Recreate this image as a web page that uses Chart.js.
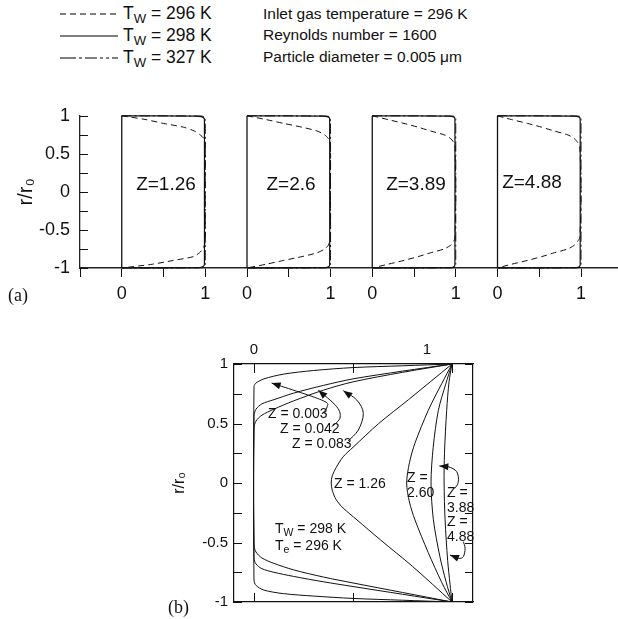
<!DOCTYPE html>
<html>
<head>
<meta charset="utf-8">
<script src="https://cdn.jsdelivr.net/npm/chart.js@4.4.1/dist/chart.umd.min.js"></script>
<style>
    html, body { margin: 0; padding: 0; background: #fff; }
    #page { position: relative; width: 618px; height: 619px; overflow: hidden; font-family: 'Liberation Sans', Arial, Helvetica, sans-serif; color: #111; }
    canvas { position: absolute; left: 0; }
    #chartA { top: 95px; }
    #chartB { top: 320px; }
    .t { position: absolute; white-space: nowrap; line-height: 1; transform: translateY(-50%); }
    .c { transform: translate(-50%, -50%); }
    .t sub { font-size: 75%; vertical-align: -0.3em; line-height: 0; }
    .two { line-height: 15px; transform: none; }
    .serif { font-family: 'Liberation Serif', 'Times New Roman', serif; }
    svg { position: absolute; overflow: visible; }
</style>
</head>
<body>
<div id="page">
    <canvas id="chartA" width="618" height="215"></canvas>
    <canvas id="chartB" width="618" height="299"></canvas>

    <svg style="left:60px;top:12px" width="58" height="4"><line x1="0" y1="2" x2="58" y2="2" stroke="#000" stroke-width="1" stroke-dasharray="6 4"/></svg>
    <svg style="left:60px;top:34px" width="58" height="4"><line x1="0" y1="2" x2="58" y2="2" stroke="#000" stroke-width="1.1"/></svg>
    <svg style="left:60px;top:56px" width="58" height="4"><line x1="0" y1="2" x2="58" y2="2" stroke="#000" stroke-width="1" stroke-dasharray="16 3 3 3 12 3 3 3 3 3"/></svg>
    <span class="t" style="left:123px;top:14px;font-size:17.5px">T<sub>W</sub> = 296 K</span>
    <span class="t" style="left:123px;top:36px;font-size:17.5px">T<sub>W</sub> = 298 K</span>
    <span class="t" style="left:123px;top:58px;font-size:17.5px">T<sub>W</sub> = 327 K</span>
    <span class="t" style="left:263px;top:14px;font-size:15.5px">Inlet gas temperature = 296 K</span>
    <span class="t" style="left:263px;top:35px;font-size:15.5px">Reynolds number = 1600</span>
    <span class="t" style="left:263px;top:57px;font-size:15.5px">Particle diameter = 0.005 &mu;m</span>

    <span class="t c" style="left:166px;top:183px;font-size:19px">Z=1.26</span>
    <span class="t c" style="left:291px;top:183px;font-size:19px">Z=2.6</span>
    <span class="t c" style="left:416px;top:183px;font-size:19px">Z=3.89</span>
    <span class="t c" style="left:532px;top:181px;font-size:19px">Z=4.88</span>
    <span class="t serif" style="left:8px;top:295px;font-size:18px">(a)</span>

    <span class="t" style="left:268px;top:413px;font-size:14px">Z = 0.003</span>
    <span class="t" style="left:280px;top:428px;font-size:14px">Z = 0.042</span>
    <span class="t" style="left:292px;top:443px;font-size:14px">Z = 0.083</span>
    <span class="t" style="left:334px;top:483px;font-size:14px">Z = 1.26</span>
    <span class="t two" style="left:407px;top:470px;font-size:14px">Z =<br>2.60</span>
    <span class="t two" style="left:447px;top:485px;font-size:14px">Z =<br>3.88</span>
    <span class="t two" style="left:447px;top:514px;font-size:14px">Z =<br>4.88</span>
    <span class="t" style="left:275px;top:528px;font-size:14px">T<sub>W</sub> = 298 K</span>
    <span class="t" style="left:275px;top:545px;font-size:14px">T<sub>e</sub> = 296 K</span>
    <span class="t serif" style="left:168px;top:607px;font-size:18px">(b)</span>
</div>
<script>
// ---- panel (a): radial profiles at four axial positions ----
const zLabelsA = ['1.26', '2.6', '3.89', '4.88'];
const panelTicks = [0, 0.5, 1];
const panelTickLabels = ['0', '', '1'];
const rTicks = [-1, -0.75, -0.5, -0.25, 0, 0.25, 0.5, 0.75, 1];
const rTickLabels = ['-1', '', '-0.5', '', '0', '', '0.5', '', '1'];

const rDashed = [1, 0.95, 0.9, 0.85, 0.8, 0.75, 0.7, 0.65, 0.6, 0, -0.6, -0.65, -0.7, -0.75, -0.8, -0.85, -0.9, -0.95, -1];
const dashed296 = [
    [0, 0.29, 0.5, 0.74, 0.87, 0.94, 0.985, 1, 1, 1, 1, 1, 0.99, 0.97, 0.93, 0.86, 0.62, 0.37, 0],
    [0, 0.23, 0.44, 0.66, 0.84, 0.93, 0.975, 0.99, 1, 1, 1, 0.99, 0.975, 0.93, 0.84, 0.66, 0.44, 0.23, 0],
    [0, 0.19, 0.38, 0.55, 0.7, 0.86, 0.94, 0.975, 0.99, 1, 0.99, 0.975, 0.94, 0.86, 0.7, 0.55, 0.38, 0.19, 0],
    [0, 0.17, 0.36, 0.53, 0.68, 0.84, 0.92, 0.96, 0.985, 1, 0.985, 0.96, 0.92, 0.84, 0.68, 0.53, 0.36, 0.17, 0],
];
const rWall = [1, 0.997, 0.99, 0.975, 0.95, 0, -0.95, -0.975, -0.99, -0.997, -1];
const solid298 = [
    [0, 0.89, 0.95, 0.98, 0.99, 0.99, 0.99, 0.98, 0.95, 0.89, 0],
    [0, 0.9, 0.96, 0.985, 0.99, 0.99, 0.99, 0.985, 0.96, 0.9, 0],
    [0, 0.92, 0.965, 0.985, 0.99, 0.99, 0.99, 0.985, 0.965, 0.92, 0],
    [0, 0.92, 0.965, 0.985, 0.99, 0.99, 0.99, 0.985, 0.965, 0.92, 0],
];
const dashdot327 = [
    [0, 0.95, 0.985, 0.995, 1, 1, 1, 0.995, 0.985, 0.95, 0],
    [0, 0.95, 0.985, 0.995, 1, 1, 1, 0.995, 0.985, 0.95, 0],
    [0, 0.96, 0.99, 1, 1, 1, 1, 1, 0.99, 0.96, 0],
    [0, 0.96, 0.99, 1, 1, 1, 1, 1, 0.99, 0.96, 0],
];
const panelEdge = [-1, 1];

// ---- panel (b): T_W = 298 K profiles ----
const zLabelsB = ['0.003', '0.042', '0.083', '1.26', '2.60', '3.88', '4.88'];
const profX = [
    [1, 0.75, 0.5, 0.3, 0.15, 0.05, 0.01, 0, 0, 0.01, 0.05, 0.15, 0.3, 0.5, 0.75, 1],
    [1, 0.75, 0.5, 0.35, 0.2, 0.1, 0.04, 0.01, 0, 0, 0.01, 0.04, 0.1, 0.2, 0.35, 0.5, 0.75, 1],
    [1, 0.75, 0.5, 0.35, 0.2, 0.1, 0.04, 0.01, 0, 0, 0.01, 0.04, 0.1, 0.2, 0.35, 0.5, 0.75, 1],
    [1, 0.78, 0.63, 0.5, 0.45, 0.415, 0.395, 0.39, 0.395, 0.415, 0.45, 0.52, 0.64, 0.8, 1],
    [1, 0.948, 0.88, 0.813, 0.785, 0.771, 0.785, 0.813, 0.88, 0.948, 1],
    [1, 0.968, 0.931, 0.905, 0.894, 0.906, 0.939, 0.97, 1],
    [1, 0.985, 0.973, 0.962, 0.96, 0.965, 0.978, 0.99, 1],
];
const profR = [
    [1, 0.985, 0.97, 0.945, 0.915, 0.875, 0.84, 0.81, -0.815, -0.86, -0.9, -0.93, -0.95, -0.97, -0.985, -1],
    [1, 0.94, 0.875, 0.82, 0.755, 0.7, 0.665, 0.62, 0.56, -0.63, -0.68, -0.72, -0.75, -0.785, -0.83, -0.87, -0.935, -1],
    [1, 0.93, 0.85, 0.78, 0.69, 0.62, 0.57, 0.52, 0.46, -0.52, -0.58, -0.63, -0.675, -0.73, -0.79, -0.84, -0.92, -1],
    [1, 0.7, 0.5, 0.3, 0.22, 0.13, 0.06, 0, -0.06, -0.14, -0.21, -0.31, -0.48, -0.7, -1],
    [1, 0.835, 0.61, 0.335, 0.17, 0, -0.16, -0.31, -0.585, -0.835, -1],
    [1, 0.83, 0.61, 0.3, 0, -0.31, -0.62, -0.83, -1],
    [1, 0.85, 0.61, 0.25, 0, -0.31, -0.65, -0.85, -1],
];
const topTickLabels = ['0', '1'];
// label arrows: tip first, then the path back to the text
const arrowPaths = [
    [[0.089, 0.84], [0.342, 0.697], [0.369, 0.639], [0.343, 0.58]],
    [[0.325, 0.78], [0.418, 0.641], [0.434, 0.544], [0.392, 0.473]],
    [[0.451, 0.776], [0.519, 0.697], [0.552, 0.586], [0.527, 0.445], [0.476, 0.355]],
    [[0.936, 0.143], [0.981, 0.137], [1.024, 0.095], [1.032, 0.011], [1.015, -0.045]],
    [[0.99, -0.605], [1.032, -0.633], [1.057, -0.619], [1.066, -0.549], [1.057, -0.493]],
];

const ink = '#111';
const sans = "'Liberation Sans', Arial, Helvetica, sans-serif";
Chart.defaults.font.family = sans;
Chart.defaults.color = ink;

const panelGap = 1.5; // sub-panels of (a) share one x scale, 1.5 units apart

const toPoints = (xs, rs, shift = 0) => xs.map((v, i) => ({ x: v + shift, y: rs[i] }));

const innerTicks = {
    id: 'innerTicks',
    afterDraw(chart, args, opts) {
        const { ctx, chartArea: a } = chart;
        ctx.save();
        ctx.strokeStyle = ink;
        ctx.lineWidth = 1;
        (opts.marks || []).forEach((m) => {
            const s = chart.scales[m.scale];
            m.values.forEach((v) => {
                const p = Math.round(s.getPixelForValue(v)) + 0.5;
                ctx.beginPath();
                if (m.side === 'left') { ctx.moveTo(a.left, p); ctx.lineTo(a.left + m.len, p); }
                if (m.side === 'right') { ctx.moveTo(a.right, p); ctx.lineTo(a.right - m.len, p); }
                if (m.side === 'top') { ctx.moveTo(p, a.top); ctx.lineTo(p, a.top + m.len); }
                if (m.side === 'bottom') { ctx.moveTo(p, a.bottom); ctx.lineTo(p, a.bottom - m.len); }
                ctx.stroke();
            });
        });
        ctx.restore();
    },
};

const arrows = {
    id: 'arrows',
    afterDatasetsDraw(chart) {
        const { ctx, scales: { x, y } } = chart;
        ctx.save();
        ctx.strokeStyle = ink;
        ctx.fillStyle = ink;
        ctx.lineWidth = 1;
        arrowPaths.forEach((path) => {
            const pts = path.map(([vx, vy]) => [x.getPixelForValue(vx), y.getPixelForValue(vy)]);
            ctx.beginPath();
            ctx.moveTo(pts[0][0], pts[0][1]);
            for (let i = 0; i < pts.length - 1; i++) {
                const p0 = pts[i - 1] || pts[i];
                const p1 = pts[i];
                const p2 = pts[i + 1];
                const p3 = pts[i + 2] || p2;
                ctx.bezierCurveTo(
                    p1[0] + (p2[0] - p0[0]) / 6, p1[1] + (p2[1] - p0[1]) / 6,
                    p2[0] - (p3[0] - p1[0]) / 6, p2[1] - (p3[1] - p1[1]) / 6,
                    p2[0], p2[1]
                );
            }
            ctx.stroke();
            const [tx, ty] = pts[0];
            const ang = Math.atan2(ty - pts[1][1], tx - pts[1][0]);
            const c = Math.cos(ang);
            const s = Math.sin(ang);
            ctx.beginPath();
            ctx.moveTo(tx, ty);
            ctx.lineTo(tx - 9 * c + 3.5 * s, ty - 9 * s - 3.5 * c);
            ctx.lineTo(tx - 9 * c - 3.5 * s, ty - 9 * s + 3.5 * c);
            ctx.closePath();
            ctx.fill();
        });
        ctx.restore();
    },
};

// ---- chart (a) ----
const aTicks = [-0.5];
const aTickLabels = [''];
zLabelsA.forEach((_, k) => {
    panelTicks.forEach((t, j) => {
        aTicks.push(t + k * panelGap);
        aTickLabels.push(panelTickLabels[j]);
    });
});

const dsA = [];
zLabelsA.forEach((z, k) => {
    const shift = k * panelGap;
    const base = { showLine: true, pointRadius: 0, borderColor: ink, fill: false, clip: false };
    dsA.push({ ...base, label: 'edge Z=' + z, data: toPoints([0, 0], panelEdge, shift), borderWidth: 1.3 });
    dsA.push({ ...base, label: 'TW=296 K Z=' + z, data: toPoints(dashed296[k], rDashed, shift), borderWidth: 1, borderDash: [6, 4], tension: 0.25 });
    dsA.push({ ...base, label: 'TW=298 K Z=' + z, data: toPoints(solid298[k], rWall, shift), borderWidth: 1.2, tension: 0.2 });
    dsA.push({ ...base, label: 'TW=327 K Z=' + z, data: toPoints(dashdot327[k], rWall, shift), borderWidth: 1, borderDash: [10, 3, 2, 3], tension: 0.2 });
});

new Chart(document.getElementById('chartA'), {
    type: 'scatter',
    data: { datasets: dsA },
    plugins: [innerTicks],
    options: {
        responsive: false,
        maintainAspectRatio: false,
        animation: false,
        layout: { padding: { top: 18, left: 0, right: 0, bottom: 0 } },
        scales: {
            x: {
                type: 'linear',
                position: 'bottom',
                min: -0.5,
                max: 5.943,
                afterBuildTicks: (s) => { s.ticks = aTicks.map((v) => ({ value: v })); },
                afterFit: (s) => { s.height = 42; },
                grid: { display: true, drawOnChartArea: false, drawTicks: true, tickLength: 9, color: ink, tickColor: ink, lineWidth: 1 },
                border: { display: true, color: '#222', width: 1.6 },
                ticks: { autoSkip: false, maxRotation: 0, padding: 6, font: { size: 18 }, color: ink, callback: (v, i) => aTickLabels[i] },
            },
            y: {
                position: 'left',
                min: -1,
                max: 1,
                afterBuildTicks: (s) => { s.ticks = rTicks.map((v) => ({ value: v })); },
                afterFit: (s) => { s.width = 80; },
                grid: { display: false, drawTicks: false },
                border: { display: true, color: '#222', width: 1.3 },
                ticks: { autoSkip: false, padding: 10, font: { size: 18 }, color: ink, callback: (v, i) => rTickLabels[i] },
                title: { display: true, text: 'r/r₀', font: { size: 20 }, color: ink, padding: { top: 14, bottom: 0 } },
            },
        },
        plugins: {
            legend: { display: false },
            tooltip: { enabled: false },
            innerTicks: { marks: [{ scale: 'y', side: 'left', values: rTicks, len: 8 }] },
        },
    },
});

// ---- chart (b) ----
const dsB = zLabelsB.map((z, k) => ({
    label: 'Z = ' + z,
    data: toPoints(profX[k], profR[k]),
    showLine: true,
    pointRadius: 0,
    borderColor: ink,
    borderWidth: 1,
    tension: 0.3,
    fill: false,
}));

new Chart(document.getElementById('chartB'), {
    type: 'scatter',
    data: { datasets: dsB },
    plugins: [innerTicks, arrows],
    options: {
        responsive: false,
        maintainAspectRatio: false,
        animation: false,
        layout: { padding: { top: 0, left: 150, right: 145, bottom: 0 } },
        scales: {
            x: {
                type: 'linear',
                position: 'bottom',
                min: -0.101,
                max: 1.106,
                afterFit: (s) => { s.height = 17; },
                grid: { display: false, drawTicks: false },
                border: { display: true, color: ink, width: 1.2 },
                ticks: { display: false },
            },
            // top labels sit where the printed figure puts them
            xt: {
                type: 'linear',
                position: 'top',
                min: -0.1156,
                max: 1.266,
                afterBuildTicks: (s) => { s.ticks = [{ value: 0 }, { value: 1 }]; },
                afterFit: (s) => { s.height = 44; },
                grid: { display: false, drawTicks: false },
                border: { display: true, color: ink, width: 1.2 },
                ticks: { autoSkip: false, maxRotation: 0, padding: 5, font: { size: 15 }, color: ink, callback: (v, i) => topTickLabels[i] },
            },
            y: {
                position: 'left',
                min: -1,
                max: 1,
                afterBuildTicks: (s) => { s.ticks = rTicks.map((v) => ({ value: v })); },
                afterFit: (s) => { s.width = 84; },
                grid: { display: false, drawTicks: false },
                border: { display: true, color: ink, width: 1.2 },
                ticks: { autoSkip: false, padding: 6, font: { size: 15 }, color: ink, callback: (v, i) => rTickLabels[i] },
                title: { display: true, text: 'r/r₀', font: { size: 16 }, color: ink, padding: { top: 20, bottom: 0 } },
            },
            yr: {
                position: 'right',
                min: -1,
                max: 1,
                afterFit: (s) => { s.width = 0; },
                grid: { display: false, drawTicks: false },
                border: { display: true, color: ink, width: 1.2 },
                ticks: { display: false },
            },
        },
        plugins: {
            legend: { display: false },
            tooltip: { enabled: false },
            innerTicks: {
                marks: [
                    { scale: 'y', side: 'left', values: rTicks, len: 8 },
                    { scale: 'y', side: 'right', values: rTicks, len: 8 },
                    { scale: 'x', side: 'top', values: panelTicks, len: 9 },
                    { scale: 'x', side: 'bottom', values: panelTicks, len: 9 },
                ],
            },
        },
    },
});
</script>
</body>
</html>
